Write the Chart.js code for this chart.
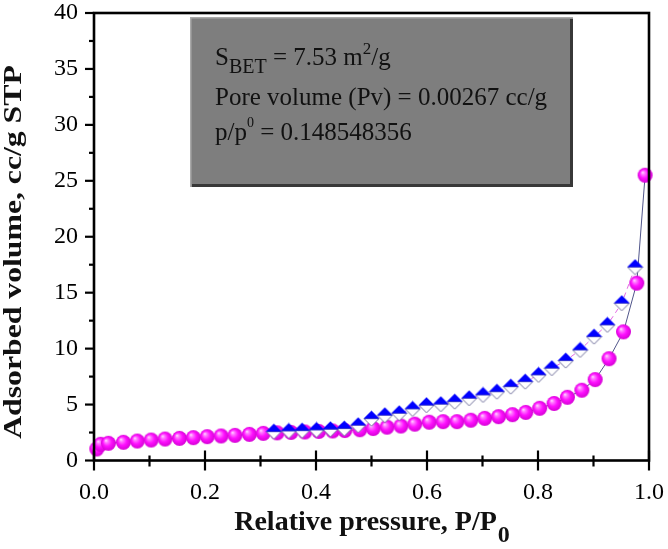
<!DOCTYPE html>
<html><head><meta charset="utf-8">
<script src="https://cdn.jsdelivr.net/npm/chart.js@4.4.0/dist/chart.umd.min.js"></script>
<style>html,body{margin:0;padding:0;background:#fff;}#wrap{width:668px;height:549px;}</style>
</head><body><div id="wrap"><canvas id="c" width="668" height="549"></canvas></div>
<script>
// ---- data ----
const adsX = [0.005, 0.012, 0.026, 0.053, 0.078, 0.103, 0.128, 0.154, 0.179, 0.204, 0.229, 0.254, 0.280, 0.305,
  0.330, 0.355, 0.380, 0.405, 0.430, 0.452, 0.479, 0.503, 0.528, 0.553, 0.578, 0.604, 0.629, 0.654, 0.679,
  0.704, 0.729, 0.754, 0.778, 0.803, 0.829, 0.853, 0.879, 0.903, 0.928, 0.954, 0.978, 0.993];
const adsY = [1.03, 1.45, 1.54, 1.63, 1.74, 1.83, 1.92, 1.98, 2.04, 2.13, 2.19, 2.25, 2.34, 2.43,
  2.47, 2.51, 2.55, 2.60, 2.64, 2.68, 2.75, 2.86, 2.98, 3.08, 3.25, 3.42, 3.47, 3.47, 3.60,
  3.77, 3.92, 4.10, 4.30, 4.67, 5.10, 5.65, 6.28, 7.23, 9.10, 11.50, 15.85, 25.50];
const desX = [0.975, 0.951, 0.925, 0.901, 0.876, 0.850, 0.825, 0.801, 0.777, 0.751, 0.726, 0.701, 0.676,
  0.650, 0.625, 0.599, 0.574, 0.550, 0.524, 0.500, 0.476, 0.451, 0.426, 0.401, 0.375, 0.351, 0.324];
const desY = [17.28, 14.06, 12.12, 11.07, 9.88, 8.93, 8.25, 7.65, 7.05, 6.60, 6.15, 5.86, 5.56,
  5.26, 5.03, 4.94, 4.61, 4.22, 4.04, 3.74, 3.15, 2.85, 2.79, 2.73, 2.67, 2.64, 2.58];
const xTickValues = [0, 0.2, 0.4, 0.6, 0.8, 1.0];
const yTickValues = [0, 5, 10, 15, 20, 25, 30, 35, 40];
const xTitleMain = 'Relative pressure, P/P';
const xTitleSub = '0';
const yTitle = 'Adsorbed volume, cc/g STP';
const infoLines = [
  [['S', 'n'], ['BET', 'sub'], [' = 7.53 m', 'n'], ['2', 'sup'], ['/g', 'n']],
  [['Pore volume (Pv) = 0.00267 cc/g', 'n']],
  [['p/p', 'n'], ['0', 'sup2'], [' = 0.148548356', 'n']]
];

// ---- marker images ----
function makeSphere(r) {
  const c = document.createElement('canvas');
  c.width = c.height = 2 * r + 2;
  const g = c.getContext('2d');
  const cx = r + 1, cy = r + 1;
  const grad = g.createRadialGradient(cx - r * 0.35, cy - r * 0.4, 0, cx, cy, r * 1.05);
  grad.addColorStop(0, '#ffe6ff');
  grad.addColorStop(0.22, '#ff7aff');
  grad.addColorStop(0.55, '#ff10ff');
  grad.addColorStop(1, '#d000d0');
  g.fillStyle = grad;
  g.beginPath(); g.arc(cx, cy, r, 0, Math.PI * 2); g.fill();
  return c;
}
function makeDiamond(h) {
  const s = 2 * h + 2;
  const c = document.createElement('canvas');
  c.width = c.height = s;
  const g = c.getContext('2d');
  const m = h + 1;
  g.fillStyle = '#ffffff';
  g.strokeStyle = '#6e6e9a';
  g.lineWidth = 1;
  g.beginPath(); g.moveTo(1, m); g.lineTo(m, s - 1); g.lineTo(s - 1, m); g.closePath();
  g.fill(); g.stroke();
  g.fillStyle = '#0000ff';
  g.beginPath(); g.moveTo(0.5, m); g.lineTo(m, 0.5); g.lineTo(s - 0.5, m); g.closePath();
  g.fill();
  return c;
}
const sphereImg = makeSphere(7.5);
const diamondImg = makeDiamond(7.5);

const SERIF = '"Liberation Serif", "Times New Roman", serif';

const decorPlugin = {
  id: 'decor',
  afterDatasetsDraw(chart) {
    const { ctx, chartArea: a, scales: { x, y } } = chart;
    ctx.save();
    // frame
    ctx.strokeStyle = '#000';
    ctx.lineWidth = 2.6;
    ctx.strokeRect(a.left, a.top, a.right - a.left, a.bottom - a.top);
    // x ticks (in and out)
    ctx.lineWidth = 2.2;
    for (let i = 0; i < xTickValues.length; i++) {
      const px = x.getPixelForValue(xTickValues[i]);
      ctx.beginPath(); ctx.moveTo(px, a.bottom - 10); ctx.lineTo(px, a.bottom + 10); ctx.stroke();
      if (i < xTickValues.length - 1) {
        const mx = x.getPixelForValue((xTickValues[i] + xTickValues[i + 1]) / 2);
        ctx.beginPath(); ctx.moveTo(mx, a.bottom - 5); ctx.lineTo(mx, a.bottom + 6); ctx.stroke();
      }
    }
    // y ticks (out)
    for (let i = 0; i < yTickValues.length; i++) {
      const py = y.getPixelForValue(yTickValues[i]);
      ctx.beginPath(); ctx.moveTo(a.left - 9, py); ctx.lineTo(a.left, py); ctx.stroke();
      if (i < yTickValues.length - 1) {
        const my = y.getPixelForValue((yTickValues[i] + yTickValues[i + 1]) / 2);
        ctx.beginPath(); ctx.moveTo(a.left - 5, my); ctx.lineTo(a.left, my); ctx.stroke();
      }
    }
    // info box
    const bl = a.left + 96, bt = a.top + 4, br = a.left + 479, bb = a.top + 174;
    ctx.fillStyle = '#7e7e7e';
    ctx.fillRect(bl, bt, br - bl, bb - bt);
    ctx.fillStyle = '#a9a9a9';
    ctx.fillRect(bl, bt, br - bl, 1.5);
    ctx.fillRect(bl, bt, 1.5, bb - bt);
    ctx.fillStyle = '#383838';
    ctx.fillRect(br - 3, bt + 2, 3, bb - bt - 2);
    ctx.fillRect(bl + 2, bb - 3, br - bl - 2, 3);
    ctx.fillStyle = '#111';
    ctx.textBaseline = 'alphabetic';
    ctx.textAlign = 'left';
    const baselines = [bt + 48, bt + 88, bt + 123];
    infoLines.forEach((segs, li) => {
      let cx = bl + 25;
      const by = baselines[li];
      segs.forEach(([t, k]) => {
        let size = 25, dy = 0;
        if (k === 'sub') { size = 20; dy = 8; }
        if (k === 'sup') { size = 17; dy = -11; }
        if (k === 'sup2') { size = 14; dy = -13; }
        ctx.font = size + 'px ' + SERIF;
        ctx.fillText(t, cx, by + dy);
        cx += ctx.measureText(t).width;
      });
    });
    // x title
    ctx.font = 'bold 28px ' + SERIF;
    const w1 = ctx.measureText(xTitleMain).width;
    ctx.font = 'bold 24px ' + SERIF;
    const w2 = ctx.measureText(xTitleSub).width;
    const cxT = (a.left + a.right) / 2;
    let sx = cxT - (w1 + w2) / 2;
    ctx.font = 'bold 28px ' + SERIF;
    ctx.fillText(xTitleMain, sx, 530);
    ctx.font = 'bold 24px ' + SERIF;
    ctx.fillText(xTitleSub, sx + w1 + 1, 542);
    // y title
    ctx.save();
    ctx.translate(21, 252);
    ctx.rotate(-Math.PI / 2);
    ctx.scale(1.22, 1);
    ctx.font = 'bold 26px ' + SERIF;
    ctx.textAlign = 'center';
    ctx.fillText(yTitle, 0, 0);
    ctx.restore();
    ctx.restore();
  }
};

const chart = new Chart(document.getElementById('c'), {
  type: 'scatter',
  data: {
    datasets: [
      {
        label: 'Desorption',
        data: desX.map((v, i) => ({ x: v, y: desY[i] })),
        showLine: true,
        borderColor: '#e46ae4',
        borderWidth: 1,
        borderDash: [5, 4],
        pointStyle: diamondImg,
        pointRadius: 7,
        order: 0,
        clip: false
      },
      {
        label: 'Adsorption',
        data: adsX.map((v, i) => ({ x: v, y: adsY[i] })),
        showLine: true,
        borderColor: '#50558a',
        borderWidth: 1,
        pointStyle: sphereImg,
        pointRadius: 7,
        order: 1,
        clip: false
      }
    ]
  },
  options: {
    responsive: false,
    animation: false,
    devicePixelRatio: 1,
    layout: { padding: { top: 13, right: 19, left: 0, bottom: 0 } },
    plugins: { legend: { display: false }, tooltip: { enabled: false } },
    scales: {
      x: {
        type: 'linear', min: 0, max: 1,
        grid: { display: false }, border: { display: false },
        afterFit: s => { s.height = 88.5; s.paddingLeft = 0; s.paddingRight = 0; },
        afterBuildTicks: s => { s.ticks = xTickValues.map(v => ({ value: v })); },
        ticks: {
          autoSkip: false, maxRotation: 0, padding: 10, color: '#000',
          font: { family: SERIF, size: 24 },
          callback: v => Number(v).toFixed(1)
        }
      },
      y: {
        type: 'linear', min: 0, max: 40,
        grid: { display: false }, border: { display: false },
        afterFit: s => { s.width = 94; s.paddingTop = 0; s.paddingBottom = 0; },
        afterBuildTicks: s => { s.ticks = yTickValues.map(v => ({ value: v })); },
        ticks: {
          autoSkip: false, padding: 8, color: '#000',
          font: { family: SERIF, size: 24 },
          callback: v => String(v)
        }
      }
    }
  },
  plugins: [decorPlugin]
});
</script>
</body></html>
